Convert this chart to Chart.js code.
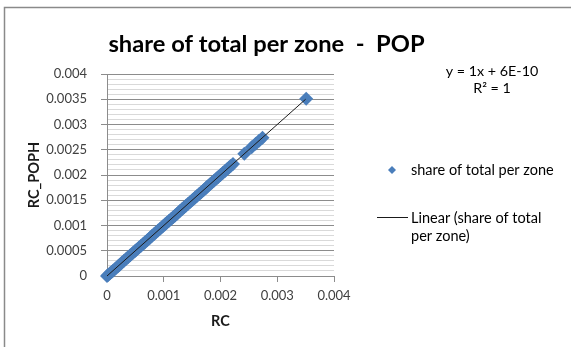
<!DOCTYPE html>
<html>
<head>
<meta charset="utf-8">
<script src="https://cdn.jsdelivr.net/npm/chart.js@4.4.1/dist/chart.umd.min.js"></script>
<style>
  html, body { margin: 0; padding: 0; background: #ffffff; }
  #wrap { width: 571px; height: 347px; position: relative; }
</style>
</head>
<body>
<div id="wrap"><canvas id="c" width="571" height="347"></canvas></div>
<script>
// Zone shares: RC (x) against RC_POPH (y)
const rc = [
  0, 0.00002, 0.00005, 0.00008, 0.00011, 0.00015, 0.00019, 0.00022, 0.00026, 0.0003,
  0.00034, 0.00037, 0.00041, 0.00045, 0.00049, 0.00052, 0.00056, 0.0006, 0.00064, 0.00067,
  0.00071, 0.00075, 0.00079, 0.00083, 0.00086, 0.0009, 0.00094, 0.00098, 0.00102, 0.00105,
  0.00109, 0.00113, 0.00117, 0.0012, 0.00124, 0.00128, 0.00132, 0.00136, 0.00139, 0.00143,
  0.00147, 0.00151, 0.00155, 0.00158, 0.00162, 0.00166, 0.0017, 0.00174, 0.00177, 0.00181,
  0.00185, 0.00189, 0.00193, 0.00196, 0.002, 0.00204, 0.00208, 0.00211, 0.00215, 0.00218,
  0.00222, 0.00242, 0.00255, 0.00262, 0.00268, 0.00274, 0.00351
];
const rcPoph = [
  0, 0.00002, 0.00005, 0.00008, 0.00011, 0.00015, 0.00019, 0.00022, 0.00026, 0.0003,
  0.00034, 0.00037, 0.00041, 0.00045, 0.00049, 0.00052, 0.00056, 0.0006, 0.00064, 0.00067,
  0.00071, 0.00075, 0.00079, 0.00083, 0.00086, 0.0009, 0.00094, 0.00098, 0.00102, 0.00105,
  0.00109, 0.00113, 0.00117, 0.0012, 0.00124, 0.00128, 0.00132, 0.00136, 0.00139, 0.00143,
  0.00147, 0.00151, 0.00155, 0.00158, 0.00162, 0.00166, 0.0017, 0.00174, 0.00177, 0.00181,
  0.00185, 0.00189, 0.00193, 0.00196, 0.002, 0.00204, 0.00208, 0.00211, 0.00215, 0.00218,
  0.00222, 0.00242, 0.00255, 0.00262, 0.00268, 0.00274, 0.00351
];

// Linear trendline fitted to the series
const trendSlope = 1;
const trendIntercept = 6e-10;
const trendRange = [0, 0.0035];

const titleText = 'share of total per zone  -  POP';
const equationLines = ['y = 1x + 6E-10', 'R\u00B2 = 1'];
const seriesName = 'share of total per zone';
const trendLegendLines = ['Linear (share of total', 'per zone)'];
const xTitle = 'RC';
const yTitle = 'RC_POPH';

const FONT = 'Lato, "Open Sans", sans-serif';
const BLUE = '#4a7ebb';

const points = rc.map((x, i) => ({ x: x, y: rcPoph[i] }));
const trendPoints = trendRange.map(x => ({ x: x, y: trendSlope * x + trendIntercept }));

const fmt = v => String(Math.round(v * 10000) / 10000);
const isMajor = v => Math.round(v * 10000) % 5 === 0;

// Frame, title, regression text and legend
const decorations = {
  id: 'decorations',
  afterDraw(chart) {
    const ctx = chart.ctx;
    ctx.save();
    // outer frame
    ctx.strokeStyle = '#8a8a8a';
    ctx.lineWidth = 1.5;
    ctx.beginPath();
    ctx.moveTo(4.5, 347);
    ctx.lineTo(4.5, 7.5);
    ctx.lineTo(571, 7.5);
    ctx.stroke();

    // title
    ctx.fillStyle = '#000000';
    ctx.font = 'bold 23.7px ' + FONT;
    ctx.textAlign = 'center';
    ctx.textBaseline = 'alphabetic';
    ctx.fillText(titleText, 266.5, 52);

    // trendline equation
    ctx.font = '14.3px ' + FONT;
    ctx.textBaseline = 'middle';
    ctx.fillText(equationLines[0], 492, 71);
    ctx.fillText(equationLines[1], 492, 88);

    // legend: series marker
    ctx.fillStyle = BLUE;
    ctx.beginPath();
    ctx.moveTo(392, 166);
    ctx.lineTo(396, 170);
    ctx.lineTo(392, 174);
    ctx.lineTo(388, 170);
    ctx.closePath();
    ctx.fill();
    ctx.fillStyle = '#000000';
    ctx.textAlign = 'left';
    ctx.font = '14.5px ' + FONT;
    ctx.fillText(seriesName, 411, 170);

    // legend: trendline
    ctx.strokeStyle = '#1a1a1a';
    ctx.lineWidth = 1;
    ctx.beginPath();
    ctx.moveTo(377, 217.5);
    ctx.lineTo(408, 217.5);
    ctx.stroke();
    ctx.fillText(trendLegendLines[0], 411, 218);
    ctx.fillText(trendLegendLines[1], 411, 236);
    ctx.restore();
  }
};

new Chart(document.getElementById('c'), {
  type: 'scatter',
  data: {
    datasets: [
      {
        type: 'line',
        label: 'Linear (share of total per zone)',
        data: trendPoints,
        borderColor: '#1a1a1a',
        borderWidth: 1,
        pointRadius: 0,
        fill: false,
        clip: false,
        order: 0
      },
      {
        label: seriesName,
        data: points,
        pointStyle: 'rectRot',
        pointRadius: 7,
        backgroundColor: BLUE,
        borderColor: BLUE,
        borderWidth: 0,
        clip: false,
        order: 1
      }
    ]
  },
  options: {
    responsive: false,
    animation: false,
    devicePixelRatio: 1,
    layout: { padding: { top: 74, right: 237, bottom: 0, left: 0 } },
    plugins: {
      legend: { display: false },
      title: { display: false },
      tooltip: { enabled: false }
    },
    scales: {
      x: {
        type: 'linear',
        min: 0,
        max: 0.004,
        afterFit(scale) { scale.height = 71; },
        ticks: {
          stepSize: 0.001,
          callback: v => fmt(v),
          color: '#404040',
          font: { family: FONT, size: 13 },
          padding: 6,
          maxRotation: 0
        },
        grid: { drawOnChartArea: false, tickLength: 6, color: '#8c8c8c' },
        border: { color: '#8c8c8c' },
        title: {
          display: true,
          text: xTitle,
          color: '#1a1a1a',
          font: { family: FONT, size: 14.5, weight: 'bold' },
          padding: { top: 0, bottom: 17 }
        }
      },
      y: {
        type: 'linear',
        min: 0,
        max: 0.004,
        afterFit(scale) { scale.width = 107; },
        ticks: {
          stepSize: 0.0001,
          autoSkip: false,
          callback: v => (isMajor(v) ? fmt(v) : ''),
          color: '#404040',
          font: { family: FONT, size: 13 },
          padding: 14
        },
        grid: {
          tickLength: 6,
          color: ctx => (isMajor(ctx.tick.value) ? '#8c8c8c' : '#d9d9d9'),
          tickColor: ctx => (isMajor(ctx.tick.value) ? '#8c8c8c' : 'rgba(0,0,0,0)')
        },
        border: { color: '#8c8c8c' },
        title: {
          display: true,
          text: yTitle,
          color: '#1a1a1a',
          font: { family: FONT, size: 14.5, weight: 'bold' },
          padding: { top: 26, bottom: 0 }
        }
      }
    }
  },
  plugins: [decorations]
});
</script>
</body>
</html>
